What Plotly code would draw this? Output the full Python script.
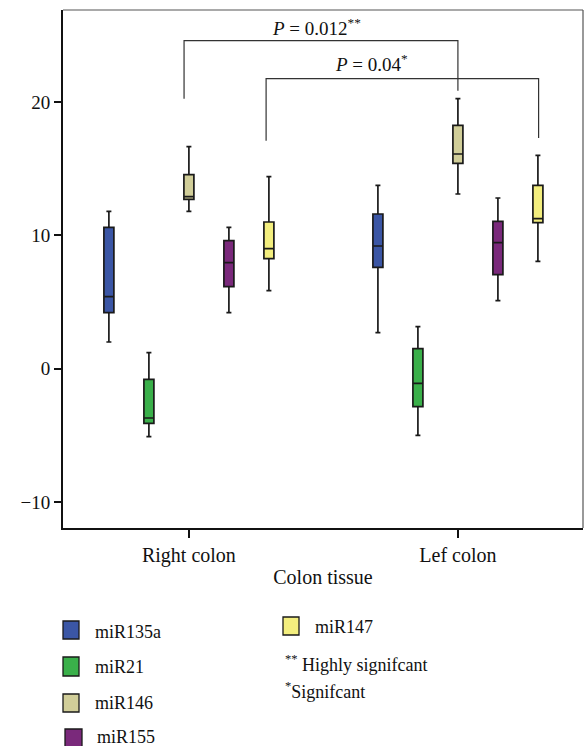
import plotly.graph_objects as go

# ---- data ----
tissues = ["Right colon", "Lef colon"]
series = ["miR135a", "miR21", "miR146", "miR155", "miR147"]
colors = ["#3B56A5", "#3AB04A", "#D1CE99", "#7A297B", "#F3EE7E"]

lower = {"miR135a": [2.0, 2.7], "miR21": [-5.1, -5.0], "miR146": [11.8, 13.1],
         "miR155": [4.2, 5.1], "miR147": [5.85, 8.05]}
q1 = {"miR135a": [4.2, 7.6], "miR21": [-4.1, -2.85], "miR146": [12.7, 15.4],
      "miR155": [6.15, 7.05], "miR147": [8.25, 10.95]}
med = {"miR135a": [5.4, 9.2], "miR21": [-3.7, -1.1], "miR146": [12.9, 16.1],
       "miR155": [7.95, 9.45], "miR147": [9.0, 11.25]}
q3 = {"miR135a": [10.6, 11.6], "miR21": [-0.8, 1.5], "miR146": [14.55, 18.25],
      "miR155": [9.6, 11.05], "miR147": [11.0, 13.75]}
upper = {"miR135a": [11.8, 13.75], "miR21": [1.2, 3.15], "miR146": [16.65, 20.25],
         "miR155": [10.6, 12.8], "miR147": [14.4, 16.0]}

y_ticks = [-10, 0, 10, 20]

# significance brackets: (x_left, x_right, y_top, y_left_end, y_right_end, label, label_x, label_y)
brackets = [
    (-0.018, 1.0, 24.6, 20.25, 20.85, "<i>P</i> = 0.012<sup>**</sup>", 0.475, 25.65),
    (0.287, 1.3, 21.75, 17.1, 17.3, "<i>P</i> = 0.04<sup>*</sup>", 0.68, 22.95),
]

FONT = "Liberation Serif, Times New Roman, serif"

fig = go.Figure()
for name, col in zip(series, colors):
    fig.add_trace(go.Box(
        name=name, x=tissues,
        lowerfence=lower[name], q1=q1[name], median=med[name],
        q3=q3[name], upperfence=upper[name],
        fillcolor=col, line=dict(color="#1a1a1a", width=1.7),
        whiskerwidth=0.5, boxpoints=False, showlegend=False,
        hoverinfo="skip",
    ))

shapes = []
annotations = []
for xl, xr, yt, yl, yr, lab, lx, ly in brackets:
    shapes.append(dict(type="path", xref="x", yref="y",
                       path=f"M {xl},{yl} L {xl},{yt} L {xr},{yt} L {xr},{yr}",
                       line=dict(color="#333", width=1.2)))
    annotations.append(dict(x=lx, y=ly, xref="x", yref="y", text=lab, showarrow=False,
                            font=dict(family=FONT, size=19, color="#111"),
                            xanchor="center", yanchor="middle"))

# top & right frame (thin gray)
shapes.append(dict(type="line", xref="paper", yref="paper", x0=0, x1=1, y0=1, y1=1,
                   line=dict(color="#555", width=1.2)))
shapes.append(dict(type="line", xref="paper", yref="paper", x0=1, x1=1, y0=0, y1=1,
                   line=dict(color="#555", width=1.2)))

# ---- legend drawn manually (pixel -> paper helpers) ----
L, T, W, H = 63, 10, 520, 518
def px(x):
    return (x - L) / W
def py(y):
    return (T + H - y) / H

legend_items = [
    ("miR135a", colors[0], 63, 621, 79, 639, 93, 632),
    ("miR21", colors[1], 63, 657, 79, 676, 93, 667),
    ("miR146", colors[2], 63, 694, 79, 712, 93, 703),
    ("miR155", colors[3], 65, 729, 82, 748, 95, 737),
    ("miR147", colors[4], 283, 617, 299, 635, 313, 627),
]
for lab, col, x0, y0, x1, y1, tx, ty in legend_items:
    shapes.append(dict(type="rect", xref="paper", yref="paper",
                       x0=px(x0), x1=px(x1), y0=py(y1), y1=py(y0),
                       fillcolor=col, line=dict(color="#1a1a1a", width=1.3)))
    annotations.append(dict(x=px(tx), y=py(ty), xref="paper", yref="paper", text=lab,
                            showarrow=False, xanchor="left", yanchor="middle",
                            font=dict(family=FONT, size=18, color="#111")))

notes = [("<sup>**</sup> Highly signifcant", 283, 663), ("<sup>*</sup>Signifcant", 283, 690)]
for txt, tx, ty in notes:
    annotations.append(dict(x=px(tx), y=py(ty), xref="paper", yref="paper", text=txt,
                            showarrow=False, xanchor="left", yanchor="middle",
                            font=dict(family=FONT, size=18, color="#111")))

fig.update_layout(
    width=584, height=746,
    margin=dict(l=L, r=584 - L - W, t=T, b=746 - T - H),
    paper_bgcolor="white", plot_bgcolor="white",
    boxmode="group", boxgap=0.2565, boxgroupgap=0.75,
    font=dict(family=FONT, color="#111"),
    shapes=shapes, annotations=annotations,
    xaxis=dict(type="category", categoryorder="array", categoryarray=tissues,
               range=[-0.468, 1.465], showline=True, linecolor="#111", linewidth=2,
               ticks="outside", ticklen=8, tickwidth=1.5, tickcolor="#111",
               tickfont=dict(family=FONT, size=20, color="#111"),
               showgrid=False, zeroline=False,
               title=dict(text="Colon tissue", font=dict(family=FONT, size=20, color="#111"),
                          standoff=4)),
    yaxis=dict(range=[-11.95, 26.9], tickvals=y_ticks, showline=True, linecolor="#111",
               linewidth=2, ticks="outside", ticklen=7, tickwidth=1.5, tickcolor="#111",
               tickfont=dict(family=FONT, size=19, color="#111"),
               showgrid=False, zeroline=False),
)

fig.write_html("out.html")
